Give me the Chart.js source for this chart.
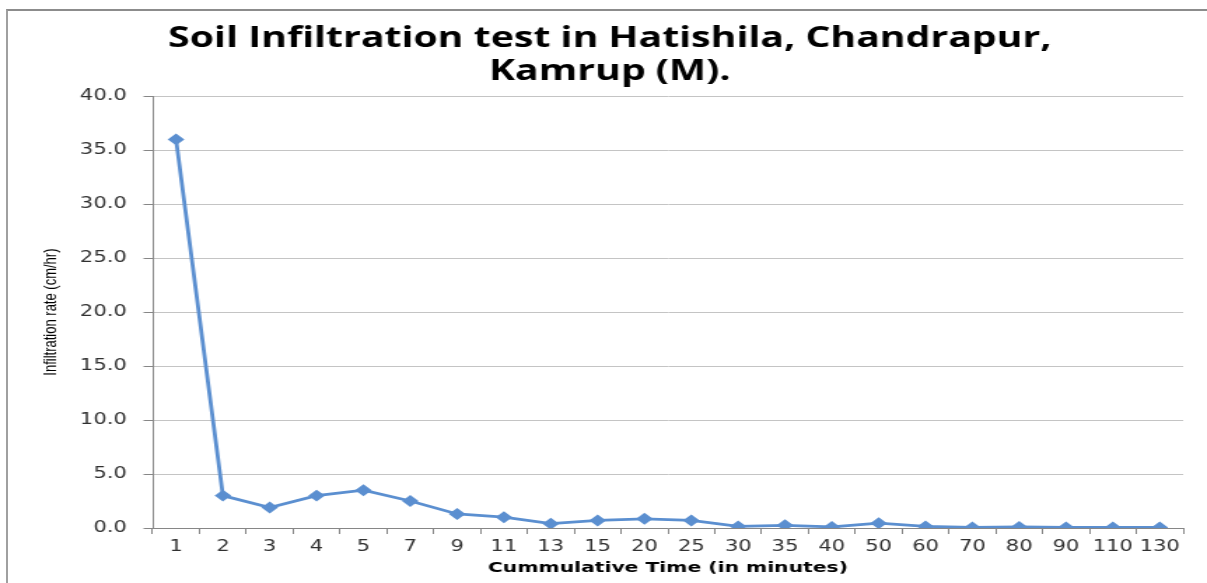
<!DOCTYPE html>
<html>
<head>
<meta charset="utf-8">
<title>Soil Infiltration test</title>
<script src="https://cdn.jsdelivr.net/npm/chart.js@4/dist/chart.umd.min.js"></script>
<style>
    body { margin: 0; background: #fff; }
    #wrap { position: relative; width: 1207px; height: 583px; overflow: hidden; }
    #frame {
        position: absolute; left: 6px; top: 9px; width: 1220px; height: 600px;
        border-top: 2px solid #8c8c8c; border-left: 2px solid #a0a0a0;
    }
    /* the original picture is stretched sideways, so the canvas is too */
    #infilChart {
        position: absolute; left: 0; top: 0;
        transform: scaleX(1.4002); transform-origin: 0 0;
    }
</style>
</head>
<body>
<div id="wrap">
    <div id="frame"></div>
    <canvas id="infilChart" width="862" height="583"></canvas>
</div>
<script>
// cumulative time (minutes)
const timeLabels = ['1', '2', '3', '4', '5', '7', '9', '11', '13', '15', '20',
    '25', '30', '35', '40', '50', '60', '70', '80', '90', '110', '130'];

// infiltration rate (cm/hr)
const infilRate = [36.0, 3.0, 1.9, 3.0, 3.5, 2.5, 1.3, 1.0, 0.4, 0.7, 0.85,
    0.7, 0.15, 0.25, 0.1, 0.45, 0.15, 0.05, 0.1, 0.05, 0.05, 0.05];

const yTicks = [0, 5, 10, 15, 20, 25, 30, 35, 40];

const tickFont = { family: 'DejaVu Sans', size: 15 };
const axisCol = '#868686';

const ctx = document.getElementById('infilChart').getContext('2d');

new Chart(ctx, {
    type: 'line',
    data: {
        labels: timeLabels,
        datasets: [{
            label: 'Infiltration rate',
            data: infilRate,
            borderColor: '#5b8fd0',
            backgroundColor: '#5b8fd0',
            borderWidth: 2.8,
            pointStyle: 'rectRot',
            pointRadius: 4,
            pointHoverRadius: 4,
            tension: 0
        }]
    },
    options: {
        responsive: false,
        animation: false,
        layout: { padding: { left: 26, right: 17, top: 0, bottom: 0 } },
        plugins: {
            legend: { display: false },
            tooltip: { enabled: false },
            title: {
                display: true,
                text: ['Soil Infiltration test in Hatishila, Chandrapur,', 'Kamrup (M).'],
                color: '#000',
                font: { family: 'Open Sans', size: 28, weight: 'bold', lineHeight: 1.2 },
                padding: { top: 22, bottom: 7 }
            }
        },
        scales: {
            x: {
                type: 'category',
                offset: true,
                grid: {
                    offset: true,
                    drawOnChartArea: false,
                    drawTicks: true,
                    tickLength: 6,
                    color: axisCol
                },
                border: { display: true, color: axisCol, width: 1 },
                ticks: { color: '#303030', font: tickFont, padding: 4, maxRotation: 0, autoSkip: false },
                title: {
                    display: true,
                    text: 'Cummulative Time (in minutes)',
                    color: '#000',
                    font: { family: 'DejaVu Sans', size: 14.5, weight: 'bold' },
                    padding: { top: 0, bottom: 6 }
                },
                afterFit: s => { s.height = 55; }
            },
            y: {
                min: 0,
                max: 40,
                afterBuildTicks: s => { s.ticks = yTicks.map(v => ({ value: v })); },
                grid: { color: '#c4c4c4', tickLength: 6.5, tickColor: axisCol },
                border: { display: true, color: axisCol, width: 1 },
                ticks: {
                    color: '#303030',
                    font: tickFont,
                    padding: 12,
                    callback: v => v.toFixed(1)
                },
                title: {
                    display: true,
                    text: 'Infiltration rate (cm/hr)',
                    color: '#000',
                    font: { family: 'Liberation Sans', size: 13 },
                    padding: { top: 3, bottom: 0 }
                },
                afterFit: s => { s.width = 83; }
            }
        }
    }
});
</script>
</body>
</html>
